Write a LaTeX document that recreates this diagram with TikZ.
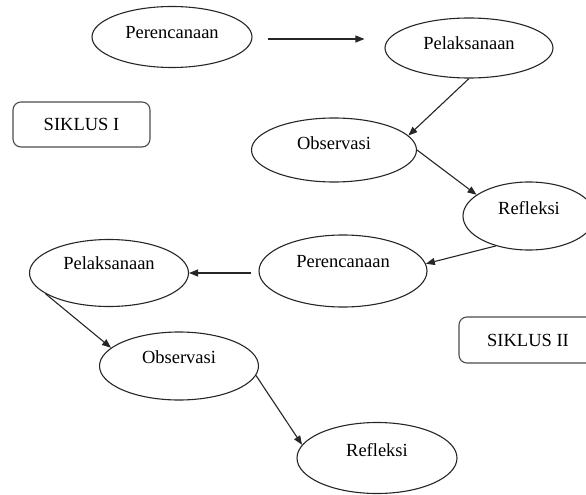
\documentclass[tikz,border=0pt]{standalone}
\usepackage{fontspec}
\setmainfont{Liberation Serif}
\usetikzlibrary{shapes.geometric,arrows.meta,calc}
\begin{document}
\begin{tikzpicture}[x=1pt,y=-1pt,
  ell/.style={draw=black!85,ellipse,line width=1.1pt,inner sep=0pt},
  sbox/.style={draw=black!70,rounded corners=8pt,line width=1.1pt,inner sep=0pt,font=\fontsize{18.5}{22}\selectfont},
  arr/.style={draw=black!85,line width=1.1pt,-{Triangle[length=9pt,width=7pt]}},
  txt/.style={font=\fontsize{18.5}{22}\selectfont,inner sep=0pt}
]
\useasboundingbox (0,0) rectangle (586,495);
\clip (0,0) rectangle (586,495);
\node[ell,minimum width=160pt,minimum height=61pt,label={[txt,yshift=4pt]center:Perencanaan}] (p1) at (172,37) {};
\node[ell,minimum width=168pt,minimum height=60pt,label={[txt,yshift=5pt]center:Pelaksanaan}] (p2) at (469,48) {};
\node[ell,minimum width=165pt,minimum height=64pt,label={[txt,yshift=7pt]center:Observasi}] (o1) at (334,150) {};
\node[ell,minimum width=132pt,minimum height=68pt,label={[txt,yshift=8pt]center:Refleksi}] (r1) at (529,216) {};
\node[ell,minimum width=168pt,minimum height=72pt,label={[txt,yshift=9pt]center:Perencanaan}] (pe2) at (343,271) {};
\node[ell,minimum width=159pt,minimum height=67pt,label={[txt,yshift=10pt]center:Pelaksanaan}] (pl2) at (109,273) {};
\node[ell,minimum width=159pt,minimum height=68pt,label={[txt,yshift=9pt]center:Observasi}] (o2) at (179,366) {};
\node[ell,minimum width=160pt,minimum height=71pt,label={[txt,yshift=8pt]center:Refleksi}] (r2) at (377,458) {};
\node[sbox,minimum width=137pt,minimum height=45pt] (s1) at (81.5,124.5) {SIKLUS I};
\node[sbox,minimum width=138pt,minimum height=46pt] (s2) at (528,340) {SIKLUS II};
\draw[arr] ($(p1.east)+(15,2)$) -- ($(p2.west)+(-20,-9)$);
\draw[arr] (p2.south) -- (o1.11);
\draw[arr] (o1.east) -- (r1.158);
\draw[arr] (r1.222) -- (pe2.5);
\draw[arr] ($(pe2.west)+(-7,2)$) -- (pl2.east);
\draw[arr] (pl2.198) -- (o2.165);
\draw[arr] (o2.-7) -- (r2.170);
\end{tikzpicture}
\end{document}
